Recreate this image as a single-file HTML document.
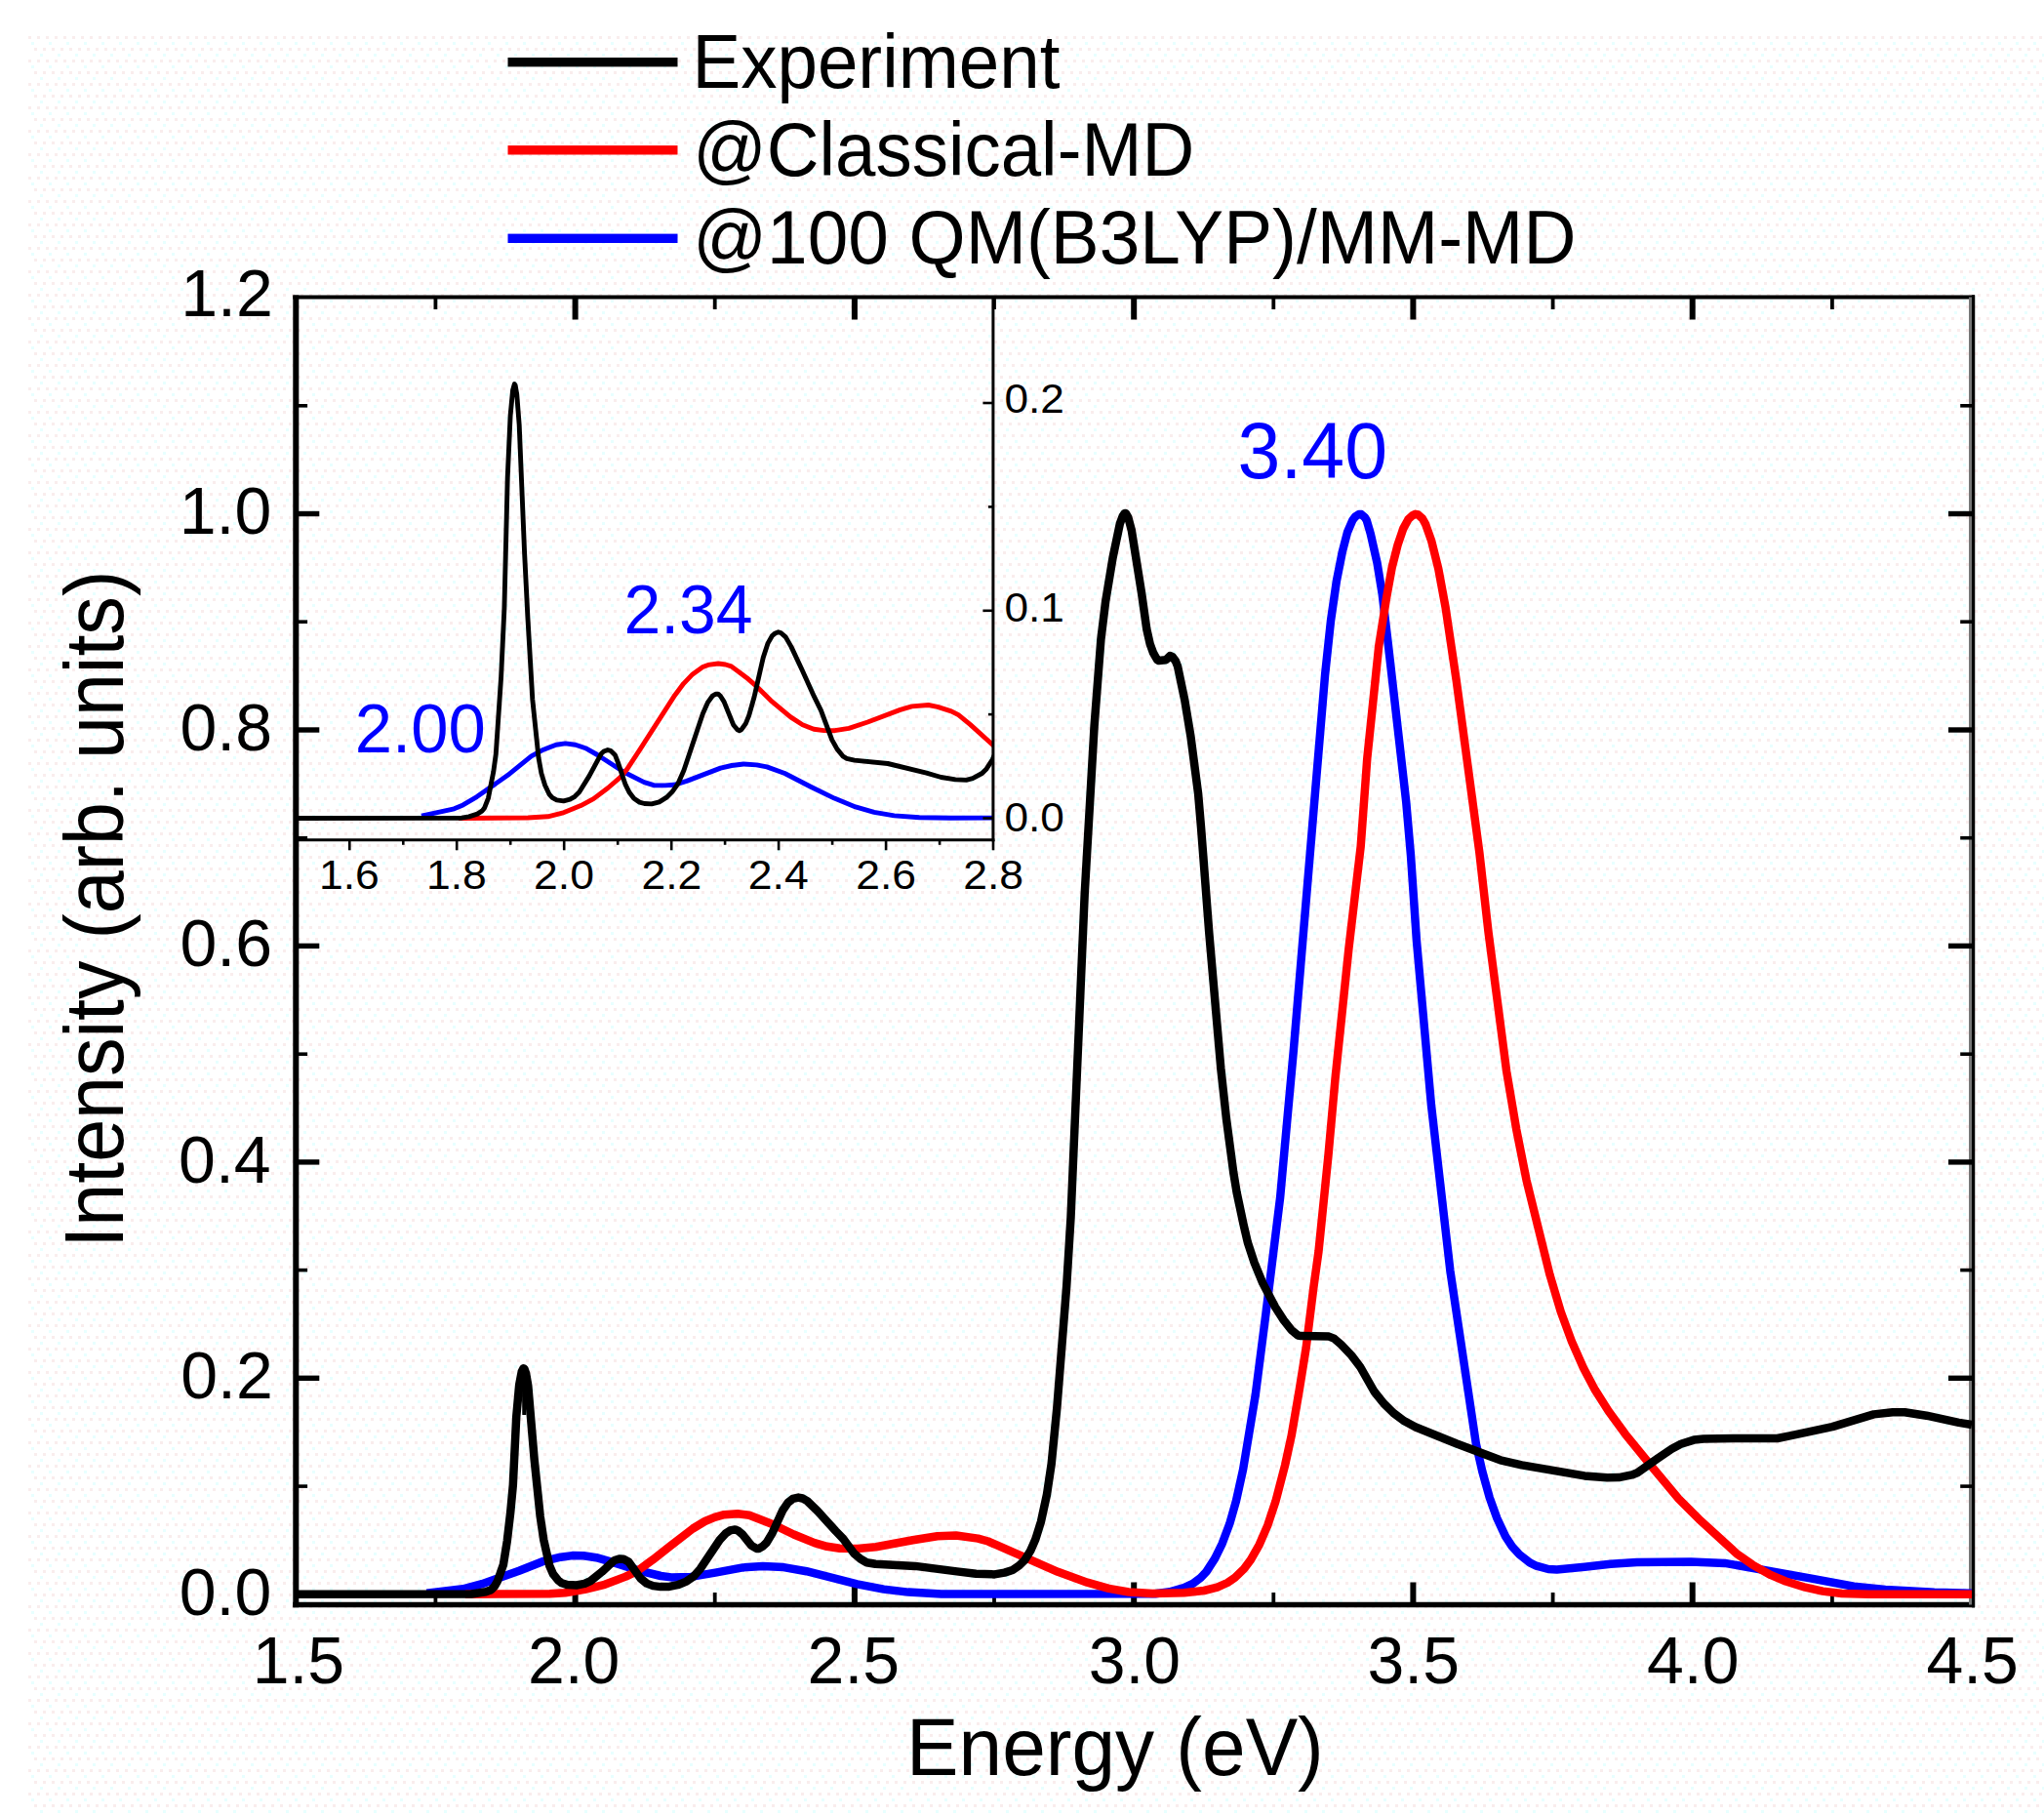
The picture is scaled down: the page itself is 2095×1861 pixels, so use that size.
<!DOCTYPE html>
<html><head><meta charset="utf-8"><title>Absorption spectra</title>
<style>html,body{margin:0;padding:0;background:#fff}svg{display:block}text{font-family:"Liberation Sans",sans-serif}</style></head><body>
<svg width="2095" height="1861" viewBox="0 0 2095 1861">
<defs><pattern id="dz" x="29" y="37" width="18" height="24" patternUnits="userSpaceOnUse"><rect x="0" y="0" width="3" height="3" fill="#f9eded"/><rect x="9" y="0" width="3" height="3" fill="#f9eded"/><rect x="6" y="12" width="3" height="3" fill="#f9eded"/><rect x="15" y="12" width="3" height="3" fill="#f9eded"/><rect x="3" y="6" width="3" height="3" fill="#e8ffff"/><rect x="12" y="18" width="3" height="3" fill="#e8ffff"/></pattern><clipPath id="ci"><rect x="303.3" y="306" width="714.7" height="554.5"/></clipPath><clipPath id="cm"><rect x="300.3" y="303" width="1724" height="1344"/></clipPath></defs>
<rect width="2095" height="1861" fill="#fff"/>
<rect x="29" y="37" width="2066" height="1824" fill="url(#dz)"/>
<g stroke="#000" fill="none">
<line x1="303.3" y1="302.5" x2="303.3" y2="1647.3" stroke-width="6"/>
<line x1="300.3" y1="1644.5" x2="2024" y2="1644.5" stroke-width="5.6"/>
<line x1="300.3" y1="304.5" x2="2024" y2="304.5" stroke-width="4"/>
<line x1="2022.5" y1="302.5" x2="2022.5" y2="1647.3" stroke-width="3.2"/>
<line x1="2019.5" y1="304.5" x2="2019.5" y2="1644.5" stroke-width="3" stroke="#777"/>
<line x1="446.4" y1="1644.5" x2="446.4" y2="1632.0" stroke-width="3.8"/>
<line x1="446.4" y1="304.5" x2="446.4" y2="317.0" stroke-width="3.8"/>
<line x1="589.6" y1="1644.5" x2="589.6" y2="1621.5" stroke-width="6.0"/>
<line x1="589.6" y1="304.5" x2="589.6" y2="327.5" stroke-width="6.0"/>
<line x1="732.7" y1="1644.5" x2="732.7" y2="1632.0" stroke-width="3.8"/>
<line x1="732.7" y1="304.5" x2="732.7" y2="317.0" stroke-width="3.8"/>
<line x1="875.9" y1="1644.5" x2="875.9" y2="1621.5" stroke-width="6.0"/>
<line x1="875.9" y1="304.5" x2="875.9" y2="327.5" stroke-width="6.0"/>
<line x1="1019.0" y1="1644.5" x2="1019.0" y2="1632.0" stroke-width="3.8"/>
<line x1="1019.0" y1="304.5" x2="1019.0" y2="317.0" stroke-width="3.8"/>
<line x1="1162.2" y1="1644.5" x2="1162.2" y2="1621.5" stroke-width="6.0"/>
<line x1="1162.2" y1="304.5" x2="1162.2" y2="327.5" stroke-width="6.0"/>
<line x1="1305.3" y1="1644.5" x2="1305.3" y2="1632.0" stroke-width="3.8"/>
<line x1="1305.3" y1="304.5" x2="1305.3" y2="317.0" stroke-width="3.8"/>
<line x1="1448.4" y1="1644.5" x2="1448.4" y2="1621.5" stroke-width="6.0"/>
<line x1="1448.4" y1="304.5" x2="1448.4" y2="327.5" stroke-width="6.0"/>
<line x1="1591.6" y1="1644.5" x2="1591.6" y2="1632.0" stroke-width="3.8"/>
<line x1="1591.6" y1="304.5" x2="1591.6" y2="317.0" stroke-width="3.8"/>
<line x1="1734.7" y1="1644.5" x2="1734.7" y2="1621.5" stroke-width="6.0"/>
<line x1="1734.7" y1="304.5" x2="1734.7" y2="327.5" stroke-width="6.0"/>
<line x1="1877.9" y1="1644.5" x2="1877.9" y2="1632.0" stroke-width="3.8"/>
<line x1="1877.9" y1="304.5" x2="1877.9" y2="317.0" stroke-width="3.8"/>
<line x1="303.3" y1="1633.8" x2="327.3" y2="1633.8" stroke-width="5.4"/>
<line x1="2021" y1="1633.8" x2="1997" y2="1633.8" stroke-width="5.4"/>
<line x1="303.3" y1="1523.1" x2="315.1" y2="1523.1" stroke-width="3.6"/>
<line x1="2021" y1="1523.1" x2="2009.2" y2="1523.1" stroke-width="3.6"/>
<line x1="303.3" y1="1412.3" x2="327.3" y2="1412.3" stroke-width="5.4"/>
<line x1="2021" y1="1412.3" x2="1997" y2="1412.3" stroke-width="5.4"/>
<line x1="303.3" y1="1301.6" x2="315.1" y2="1301.6" stroke-width="3.6"/>
<line x1="2021" y1="1301.6" x2="2009.2" y2="1301.6" stroke-width="3.6"/>
<line x1="303.3" y1="1190.9" x2="327.3" y2="1190.9" stroke-width="5.4"/>
<line x1="2021" y1="1190.9" x2="1997" y2="1190.9" stroke-width="5.4"/>
<line x1="303.3" y1="1080.2" x2="315.1" y2="1080.2" stroke-width="3.6"/>
<line x1="2021" y1="1080.2" x2="2009.2" y2="1080.2" stroke-width="3.6"/>
<line x1="303.3" y1="969.4" x2="327.3" y2="969.4" stroke-width="5.4"/>
<line x1="2021" y1="969.4" x2="1997" y2="969.4" stroke-width="5.4"/>
<line x1="303.3" y1="858.7" x2="315.1" y2="858.7" stroke-width="3.6"/>
<line x1="2021" y1="858.7" x2="2009.2" y2="858.7" stroke-width="3.6"/>
<line x1="303.3" y1="748.0" x2="327.3" y2="748.0" stroke-width="5.4"/>
<line x1="2021" y1="748.0" x2="1997" y2="748.0" stroke-width="5.4"/>
<line x1="303.3" y1="637.2" x2="315.1" y2="637.2" stroke-width="3.6"/>
<line x1="2021" y1="637.2" x2="2009.2" y2="637.2" stroke-width="3.6"/>
<line x1="303.3" y1="526.5" x2="327.3" y2="526.5" stroke-width="5.4"/>
<line x1="2021" y1="526.5" x2="1997" y2="526.5" stroke-width="5.4"/>
<line x1="303.3" y1="415.8" x2="315.1" y2="415.8" stroke-width="3.6"/>
<line x1="2021" y1="415.8" x2="2009.2" y2="415.8" stroke-width="3.6"/>
</g>
<g fill="none" stroke-linejoin="round" stroke-linecap="butt" clip-path="url(#cm)">
<path d="M437.3,1632.6 L474.6,1628.3 L494.0,1623.2 L532.0,1609.8 L556.1,1600.2 L574.7,1595.7 L586.6,1594.1 L598.1,1594.3 L611.2,1596.2 L630.2,1601.6 L655.5,1609.7 L677.3,1615.0 L688.0,1616.4 L708.2,1615.9 L733.2,1611.6 L761.3,1606.4 L781.9,1604.9 L803.2,1606.1 L826.6,1610.2 L878.5,1623.3 L905.8,1628.6 L930.8,1631.6 L964.8,1633.4 L1032.1,1633.6 L1184.2,1633.2 L1198.9,1631.3 L1213.5,1627.1 L1222.6,1622.9 L1230.6,1616.9 L1236.5,1610.6 L1245.2,1597.1 L1252.7,1581.8 L1260.3,1561.6 L1267.0,1538.0 L1274.1,1505.9 L1286.8,1429.3 L1297.5,1345.7 L1312.1,1227.3 L1319.7,1143.6 L1325.6,1079.2 L1358.1,691.5 L1364.0,636.1 L1369.9,595.4 L1375.9,565.2 L1381.0,545.5 L1386.2,533.3 L1389.0,529.6 L1392.9,526.9 L1395.3,527.1 L1398.9,530.2 L1400.8,533.4 L1404.8,547.1 L1411.5,576.7 L1416.7,608.6 L1422.6,658.3 L1441.2,821.4 L1446.0,876.7 L1451.9,963.5 L1467.0,1132.8 L1486.4,1302.3 L1512.9,1479.8 L1519.2,1507.5 L1526.8,1534.9 L1534.3,1555.7 L1543.0,1574.4 L1549.7,1584.6 L1557.3,1593.0 L1568.0,1601.4 L1574.7,1604.7 L1587.0,1608.0 L1595.7,1608.4 L1624.2,1605.7 L1650.7,1602.7 L1677.7,1601.0 L1733.1,1600.4 L1767.9,1601.9 L1856.7,1617.6 L1900.2,1625.8 L1932.3,1629.1 L1982.6,1631.7 L2021.0,1632.8" stroke="#0000ff" stroke-width="8.5"/>
<path d="M476.9,1633.8 L563.4,1633.3 L579.2,1632.2 L599.3,1628.8 L619.8,1623.8 L641.4,1615.6 L653.4,1609.9 L669.2,1598.3 L686.6,1584.7 L710.1,1566.5 L722.5,1559.0 L732.5,1554.8 L742.2,1552.2 L756.1,1551.3 L768.0,1552.8 L792.4,1562.2 L813.6,1572.5 L834.8,1581.1 L847.6,1584.8 L860.7,1586.7 L879.2,1587.0 L897.8,1585.2 L935.6,1578.3 L960.7,1574.2 L980.0,1573.5 L1002.4,1576.6 L1012.8,1579.5 L1054.2,1597.7 L1084.3,1610.8 L1114.4,1621.7 L1136.4,1627.9 L1156.9,1631.5 L1181.2,1632.9 L1213.6,1632.3 L1234.1,1630.0 L1247.6,1626.7 L1258.0,1622.0 L1265.7,1616.8 L1275.0,1607.8 L1282.0,1598.4 L1290.8,1582.8 L1299.3,1563.1 L1307.4,1538.7 L1317.1,1501.5 L1323.7,1471.2 L1331.8,1424.0 L1338.7,1381.0 L1346.4,1318.9 L1351.5,1282.4 L1361.5,1183.7 L1368.5,1105.9 L1382.4,972.1 L1394.7,867.2 L1401.3,777.1 L1413.2,662.4 L1421.0,612.9 L1426.8,581.1 L1432.6,558.4 L1438.3,541.6 L1443.7,531.8 L1447.6,528.3 L1450.7,526.8 L1453.4,527.4 L1458.0,531.5 L1461.1,537.1 L1467.3,554.7 L1474.3,583.0 L1481.6,622.5 L1492.8,698.0 L1516.3,873.4 L1525.6,955.7 L1544.1,1097.6 L1554.2,1157.3 L1564.6,1209.7 L1588.5,1306.4 L1599.7,1344.1 L1610.9,1374.6 L1622.9,1401.7 L1634.9,1424.4 L1648.8,1446.3 L1665.8,1469.6 L1692.0,1501.8 L1720.6,1536.0 L1741.4,1556.8 L1780.8,1592.8 L1796.3,1603.6 L1815.2,1614.2 L1830.3,1620.5 L1850.3,1626.7 L1868.1,1630.6 L1887.8,1633.0 L1915.6,1633.8 L2021.0,1633.8" stroke="#ff0000" stroke-width="8.5"/>
<path d="M303.3,1633.8 L483.3,1633.5 L497.9,1631.3 L503.5,1629.2 L506.9,1625.6 L509.9,1620.4 L515.9,1603.5 L519.8,1579.1 L523.2,1549.7 L525.8,1521.9 L529.2,1452.2 L532.2,1419.0 L534.8,1405.4 L536.5,1402.2 L537.4,1402.8 L539.1,1407.5 L541.3,1420.3 L547.7,1496.0 L553.7,1554.0 L557.2,1577.7 L563.2,1604.5 L567.0,1613.2 L571.8,1619.2 L575.6,1622.3 L581.6,1624.1 L590.7,1624.5 L599.2,1622.9 L605.3,1620.1 L616.9,1610.8 L629.7,1599.0 L635.3,1597.4 L639.2,1597.8 L644.3,1600.5 L656.4,1617.4 L662.8,1622.6 L669.3,1625.1 L677.0,1626.1 L686.0,1625.9 L694.6,1624.2 L703.6,1620.6 L710.9,1615.5 L717.8,1607.7 L737.6,1578.1 L743.6,1571.6 L748.3,1568.4 L753.4,1567.4 L756.9,1568.9 L760.8,1572.2 L770.2,1583.9 L775.4,1586.9 L777.9,1586.9 L782.2,1584.3 L785.7,1580.9 L791.7,1570.8 L802.0,1548.2 L807.6,1539.9 L812.7,1535.9 L818.3,1534.6 L822.6,1535.5 L827.3,1538.1 L838.1,1548.6 L856.5,1568.9 L864.3,1577.0 L875.4,1592.0 L881.9,1597.5 L888.3,1601.2 L897.3,1602.7 L938.1,1604.9 L980.7,1610.4 L1000.4,1612.8 L1019.3,1613.4 L1029.6,1611.6 L1037.8,1609.0 L1044.7,1604.3 L1050.3,1598.8 L1056.3,1589.0 L1061.4,1577.2 L1067.0,1559.2 L1073.0,1531.5 L1077.7,1500.0 L1083.3,1443.2 L1093.2,1317.9 L1097.5,1247.8 L1111.7,916.4 L1121.6,744.1 L1128.4,655.2 L1133.2,616.1 L1140.5,571.9 L1147.8,536.8 L1150.8,528.7 L1152.9,525.9 L1153.8,526.0 L1156.4,530.5 L1159.8,543.4 L1170.1,608.0 L1175.3,644.8 L1178.7,659.9 L1182.1,669.2 L1186.0,676.0 L1187.7,677.0 L1195.0,676.3 L1199.3,672.1 L1201.5,672.9 L1204.9,677.4 L1207.0,682.7 L1214.3,717.6 L1220.4,754.5 L1228.1,813.4 L1231.1,848.8 L1239.3,956.1 L1251.3,1094.7 L1256.9,1146.1 L1264.2,1201.2 L1267.6,1222.0 L1274.5,1254.6 L1278.8,1273.1 L1285.6,1293.9 L1294.2,1314.9 L1307.1,1339.5 L1315.7,1352.9 L1323.4,1362.7 L1330.3,1368.5 L1333.7,1369.1 L1362.1,1369.6 L1367.3,1371.6 L1374.6,1377.9 L1385.3,1389.1 L1394.3,1401.0 L1408.5,1426.0 L1418.4,1438.4 L1428.2,1448.0 L1439.4,1456.3 L1451.0,1462.5 L1493.1,1479.5 L1537.8,1496.3 L1559.7,1501.4 L1624.1,1512.4 L1647.3,1514.3 L1659.3,1514.1 L1672.6,1511.4 L1678.2,1509.3 L1698.4,1495.0 L1713.5,1484.8 L1722.9,1479.8 L1736.2,1475.6 L1746.1,1474.6 L1776.6,1474.0 L1821.7,1474.0 L1834.6,1471.4 L1853.5,1467.3 L1878.0,1462.1 L1920.5,1449.4 L1939.8,1447.2 L1952.3,1447.3 L1974.6,1450.7 L2007.7,1457.9 L2021.0,1460.0" stroke="#000" stroke-width="8.5"/>
</g>
<line x1="536.8" y1="1404" x2="537.3" y2="1450" stroke="#000" stroke-width="4"/>
<g fill="none" stroke-linejoin="round" clip-path="url(#ci)">
<path d="M432.0,836.2 L465.5,828.8 L474.6,824.9 L488.7,816.6 L520.2,794.6 L544.6,774.9 L557.1,768.2 L570.0,763.2 L579.5,761.9 L589.8,763.2 L600.1,766.7 L612.2,773.5 L639.6,791.3 L660.2,801.6 L670.0,804.7 L681.8,804.9 L691.0,804.3 L703.9,800.4 L717.6,795.1 L738.5,787.1 L749.9,784.5 L762.1,783.0 L775.4,783.9 L786.0,785.9 L804.3,792.5 L830.9,806.2 L855.2,818.1 L876.9,826.9 L895.9,832.4 L916.5,835.9 L942.3,837.8 L974.3,838.3 L1034.3,838.1" stroke="#0000ff" stroke-width="4.9"/>
<path d="M470.0,838.5 L541.2,838.0 L561.6,836.8 L576.4,833.2 L595.3,825.6 L608.3,818.6 L623.1,807.5 L635.7,796.6 L642.8,788.2 L658.0,764.8 L671.3,744.2 L691.7,712.4 L700.6,700.6 L709.9,690.9 L720.3,683.6 L725.8,681.4 L736.2,680.0 L743.6,681.0 L749.6,682.9 L765.5,694.7 L776.3,704.2 L790.0,717.8 L810.4,734.9 L822.6,742.8 L834.1,747.2 L844.5,748.6 L855.6,748.7 L870.1,746.3 L889.3,740.0 L922.7,727.4 L934.6,723.9 L951.6,722.5 L960.9,724.3 L975.0,728.8 L982.4,732.7 L994.3,742.4 L1031.7,776.0 L1034.3,778.3" stroke="#ff0000" stroke-width="4.9"/>
<path d="M303.3,838.5 L473.2,838.2 L480.7,836.9 L489.3,834.1 L494.3,830.9 L496.7,827.7 L500.5,817.8 L505.8,790.8 L508.3,772.6 L513.6,693.8 L516.9,623.5 L520.2,489.6 L523.1,425.7 L525.6,399.6 L527.3,393.6 L528.1,394.7 L529.7,403.8 L532.2,435.6 L537.6,566.7 L540.9,632.4 L545.8,716.7 L552.0,776.4 L554.9,792.6 L558.6,804.8 L563.1,814.2 L566.0,817.4 L570.6,819.9 L577.6,820.9 L584.2,819.2 L589.1,816.3 L593.7,811.7 L604.0,795.1 L616.4,772.2 L618.8,770.0 L622.9,768.5 L625.8,769.3 L630.4,773.7 L633.3,781.1 L641.1,804.2 L645.2,812.3 L649.8,818.3 L655.5,822.1 L660.5,823.5 L667.9,823.9 L675.7,821.8 L683.2,817.2 L688.9,811.6 L694.7,803.4 L700.9,789.5 L720.3,731.5 L725.6,719.6 L730.2,713.2 L733.9,711.2 L736.0,711.1 L738.4,713.3 L742.1,719.1 L751.6,742.7 L755.8,747.8 L757.8,748.7 L759.9,747.7 L764.4,741.4 L767.7,733.2 L773.1,714.0 L782.2,674.0 L787.1,659.1 L791.6,651.3 L794.5,649.0 L797.8,647.8 L800.3,648.5 L805.3,652.9 L811.0,662.9 L822.2,686.7 L834.5,713.9 L841.5,728.2 L852.7,758.1 L858.0,767.6 L864.2,775.2 L867.9,777.3 L875.8,779.1 L910.0,782.5 L949.6,792.1 L964.5,796.5 L979.3,798.9 L990.4,799.4 L997.0,797.6 L1006.5,792.5 L1011.1,787.9 L1017.3,778.2 L1021.4,768.9 L1027.2,749.3 L1032.5,722.7 L1034.2,712.7" stroke="#000" stroke-width="4.9"/>
</g>
<line x1="2022.6" y1="302.5" x2="2022.6" y2="1647.3" stroke="#000" stroke-opacity="0.78" stroke-width="3.2"/>
<g stroke="#000" fill="none">
<line x1="303.3" y1="860.8" x2="1019.4" y2="860.8" stroke-width="3"/>
<line x1="1017.9" y1="304" x2="1017.9" y2="862.3" stroke-width="3"/>
<line x1="358.3" y1="860.8" x2="358.3" y2="871.3" stroke-width="2.6"/>
<line x1="413.3" y1="860.8" x2="413.3" y2="865.8" stroke-width="2.6"/>
<line x1="468.2" y1="860.8" x2="468.2" y2="871.3" stroke-width="2.6"/>
<line x1="523.2" y1="860.8" x2="523.2" y2="865.8" stroke-width="2.6"/>
<line x1="578.2" y1="860.8" x2="578.2" y2="871.3" stroke-width="2.6"/>
<line x1="633.2" y1="860.8" x2="633.2" y2="865.8" stroke-width="2.6"/>
<line x1="688.2" y1="860.8" x2="688.2" y2="871.3" stroke-width="2.6"/>
<line x1="743.1" y1="860.8" x2="743.1" y2="865.8" stroke-width="2.6"/>
<line x1="798.1" y1="860.8" x2="798.1" y2="871.3" stroke-width="2.6"/>
<line x1="853.1" y1="860.8" x2="853.1" y2="865.8" stroke-width="2.6"/>
<line x1="908.1" y1="860.8" x2="908.1" y2="871.3" stroke-width="2.6"/>
<line x1="963.1" y1="860.8" x2="963.1" y2="865.8" stroke-width="2.6"/>
<line x1="1018.0" y1="860.8" x2="1018.0" y2="871.3" stroke-width="2.6"/>
<line x1="1017.9" y1="838.5" x2="1007.4" y2="838.5" stroke-width="2.6"/>
<line x1="1017.9" y1="732.1" x2="1012.9" y2="732.1" stroke-width="2.6"/>
<line x1="1017.9" y1="625.8" x2="1007.4" y2="625.8" stroke-width="2.6"/>
<line x1="1017.9" y1="519.4" x2="1012.9" y2="519.4" stroke-width="2.6"/>
<line x1="1017.9" y1="413.0" x2="1007.4" y2="413.0" stroke-width="2.6"/>
</g>
<g fill="#000">
<text transform="translate(258.7,1724.9) scale(0.985,1)" font-size="69">1.5</text>
<text transform="translate(540.9,1724.9) scale(0.985,1)" font-size="69">2.0</text>
<text transform="translate(827.6,1724.9) scale(0.985,1)" font-size="69">2.5</text>
<text transform="translate(1115.7,1724.9) scale(0.985,1)" font-size="69">3.0</text>
<text transform="translate(1401.5,1724.9) scale(0.985,1)" font-size="69">3.5</text>
<text transform="translate(1688.0,1724.9) scale(0.985,1)" font-size="69">4.0</text>
<text transform="translate(1974.4,1724.9) scale(0.985,1)" font-size="69">4.5</text>
<text transform="translate(183.8,1654.6) scale(1.0,1)" font-size="68">0.0</text>
<text transform="translate(185.2,1433.1) scale(1.0,1)" font-size="68">0.2</text>
<text transform="translate(183.1,1211.7) scale(1.0,1)" font-size="68">0.4</text>
<text transform="translate(184.5,990.2) scale(1.0,1)" font-size="68">0.6</text>
<text transform="translate(184.5,768.8) scale(1.0,1)" font-size="68">0.8</text>
<text transform="translate(183.8,547.3) scale(1.0,1)" font-size="68">1.0</text>
<text transform="translate(185.2,324.0) scale(1.0,1)" font-size="68">1.2</text>
<text transform="translate(327.0,910.8) scale(1.045,1)" font-size="42.6">1.6</text>
<text transform="translate(436.9,910.8) scale(1.045,1)" font-size="42.6">1.8</text>
<text transform="translate(547.1,910.8) scale(1.045,1)" font-size="42.6">2.0</text>
<text transform="translate(657.5,910.8) scale(1.045,1)" font-size="42.6">2.2</text>
<text transform="translate(766.8,910.8) scale(1.045,1)" font-size="42.6">2.4</text>
<text transform="translate(877.2,910.8) scale(1.045,1)" font-size="42.6">2.6</text>
<text transform="translate(987.2,910.8) scale(1.045,1)" font-size="42.6">2.8</text>
<text transform="translate(1029.5,423.4) scale(1.045,1)" font-size="42.3">0.2</text>
<text transform="translate(1029.5,637.0) scale(1.045,1)" font-size="42.3">0.1</text>
<text transform="translate(1029.5,852.3) scale(1.045,1)" font-size="42.3">0.0</text>
<text transform="translate(929.1,1818.5) scale(0.951,1)" font-size="84.3">Energy (eV)</text>
<text transform="translate(125.7,1278.7) rotate(-90) scale(0.932,1)" font-size="84.8">Intensity (arb. units)</text>
<rect x="520.5" y="59.0" width="174" height="9.4" fill="#000"/>
<rect x="520.5" y="149.10000000000002" width="174" height="9.4" fill="#ff0000"/>
<rect x="520.5" y="239.60000000000002" width="174" height="9.4" fill="#0000ff"/>
<text transform="translate(709.5,89.6) scale(0.9615,1)" font-size="77.5">Experiment</text>
<text transform="translate(710.2,180.0) scale(0.9607,1)" font-size="77.5">@Classical-MD</text>
<text transform="translate(710.2,269.7) scale(0.9648,1)" font-size="77.5">@100 QM(B3LYP)/MM-MD</text>
</g>
<g fill="#0000ff">
<text transform="translate(1268.6,490.2) scale(0.967,1)" font-size="81.5">3.40</text>
<text transform="translate(363.8,770.8) scale(0.969,1)" font-size="71">2.00</text>
<text transform="translate(639.4,649.2) scale(0.963,1)" font-size="70.5">2.34</text>
</g>
</svg></body></html>
